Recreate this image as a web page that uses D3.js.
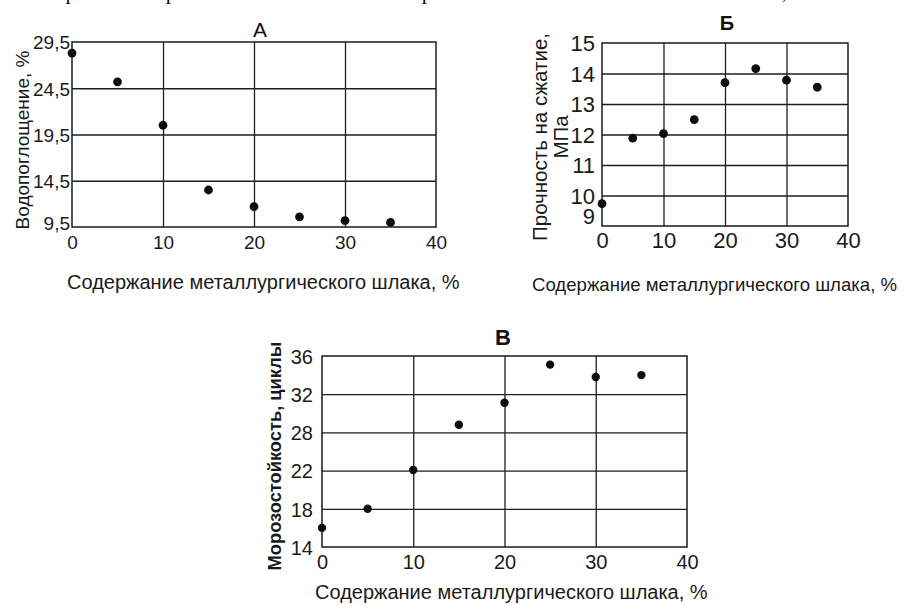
<!DOCTYPE html>
<html>
<head>
<meta charset="utf-8">
<script src="https://cdn.jsdelivr.net/npm/d3@7"></script>
<style>
  html, body { margin: 0; padding: 0; background: #fff; }
  svg { display: block; font-family: "Liberation Sans", Arial, sans-serif; }
  .grid line { stroke: #1e1e1e; stroke-width: 1.3; }
  .grid path { display: none; }
  .lbl path, .lbl line { display: none; }
  .lbl text { fill: #1a1a1a; }
</style>
</head>
<body>
<svg id="chart" width="910" height="605"></svg>
<script>
// Slag content, % (shared x values for all three panels)
const slagContent = [0, 5, 10, 15, 20, 25, 30, 35];
const xTickValues = [0, 10, 20, 30, 40];

// А — water absorption, %
const waterAbsorption = [28.3, 25.2, 20.5, 13.5, 11.7, 10.6, 10.2, 10.0];
const waterTicks = [9.5, 14.5, 19.5, 24.5, 29.5];

// Б — compressive strength, MPa
const compressiveStrength = [9.73, 11.88, 12.03, 12.49, 13.70, 14.16, 13.78, 13.55];
const strengthTicks = [9, 10, 11, 12, 13, 14, 15];

// В — frost resistance, cycles (gridlines evenly spaced between uneven labels)
const frostResistance = [16.0, 18.0, 22.1, 28.8, 31.1, 35.1, 33.8, 34.0];
const frostTicks = [14, 18, 22, 28, 32, 36];

const xLabel = "Содержание металлургического шлака, %";
const commaFmt = v => String(v).replace(".", ",");

const svg = d3.select("#chart");

// Bottom of a text line from the page above the figure
svg.append("text")
  .attr("x", 50).attr("y", -0.8)
  .attr("font-family", "'Liberation Serif', 'Times New Roman', serif")
  .attr("font-size", 21.5)
  .attr("fill", "#111")
  .text("Прочность при замене песка шлаком возрастает на 40–45 % и остается высокой, что");

function panel(cfg) {
  const g = svg.append("g");
  const [x0, x1] = cfg.xr, [yb, yt] = cfg.yr;
  const x = d3.scaleLinear().domain([0, 40]).range([x0, x1]);
  const y = cfg.y;

  // gridlines
  g.append("g").attr("class", "grid")
    .attr("transform", `translate(${x0},0)`)
    .call(d3.axisLeft(y).tickValues(cfg.yTicks.slice(1, -1)).tickSize(-(x1 - x0)).tickFormat(""));
  g.append("g").attr("class", "grid")
    .attr("transform", `translate(0,${yb})`)
    .call(d3.axisBottom(x).tickValues(xTickValues.slice(1, -1)).tickSize(-(yb - yt)).tickFormat(""));

  // frame
  g.append("rect")
    .attr("x", x0).attr("y", yt).attr("width", x1 - x0).attr("height", yb - yt)
    .attr("fill", "none").attr("stroke", "#1a1a1a").attr("stroke-width", 1.5);

  // tick labels
  const yl = g.append("g").attr("class", "lbl")
    .attr("transform", `translate(${x0},0)`)
    .call(d3.axisLeft(y).tickValues(cfg.yTicks).tickSize(0).tickPadding(cfg.yPad).tickFormat(cfg.fmt));
  yl.selectAll("text").attr("font-size", cfg.fs).attr("font-family", "'Liberation Sans', Arial, sans-serif")
    .attr("dy", (d, i) => i === 0 ? cfg.firstDy : "0.36em");
  const xl = g.append("g").attr("class", "lbl")
    .attr("transform", `translate(0,${yb})`)
    .call(d3.axisBottom(x).tickValues(xTickValues).tickSize(0).tickPadding(cfg.xPad));
  xl.selectAll("text").attr("font-size", cfg.fs).attr("font-family", "'Liberation Sans', Arial, sans-serif");

  // points
  g.append("g").selectAll("circle")
    .data(slagContent.map((s, i) => [s, cfg.values[i]]))
    .join("circle")
    .attr("cx", d => x(d[0])).attr("cy", d => y(d[1]))
    .attr("r", cfg.r).attr("fill", "#0d0d0d");

  // title
  g.append("text")
    .attr("x", cfg.title[1]).attr("y", cfg.title[2])
    .attr("text-anchor", "middle")
    .attr("font-size", cfg.title[3]).attr("font-weight", cfg.title[4])
    .attr("fill", "#111")
    .text(cfg.title[0]);

  // x axis title
  g.append("text")
    .attr("x", cfg.xt[0]).attr("y", cfg.xt[1])
    .attr("font-size", cfg.xt[2]).attr("fill", "#1a1a1a")
    .text(xLabel);

  // y axis title (one or more lines, first line centred on ytPos)
  const yt2 = g.append("text")
    .attr("transform", `translate(${cfg.ytPos[0]},${cfg.ytPos[1]}) rotate(-90)`)
    .attr("text-anchor", "middle")
    .attr("font-size", cfg.ytPos[2]).attr("font-weight", cfg.ytPos[3])
    .attr("fill", "#1a1a1a");
  cfg.yTitle.forEach((line, i) => {
    yt2.append("tspan").attr("x", 0).attr("dy", i === 0 ? "0.36em" : cfg.lineGap).text(line);
  });
}

// А
panel({
  xr: [72, 436], yr: [227, 42],
  y: d3.scaleLinear().domain([9.5, 29.5]).range([227, 42]),
  yTicks: waterTicks, fmt: commaFmt, values: waterAbsorption,
  fs: 19, yPad: 2, xPad: 9, firstDy: "0.15em", r: 4.4,
  title: ["А", 260, 37, 21, "normal"],
  xt: [67, 289, 20],
  ytPos: [22, 140, 19, "normal"],
  yTitle: ["Водопоглощение, %"]
});

// Б
panel({
  xr: [602, 848], yr: [226, 43],
  y: d3.scaleLinear().domain([9, 15]).range([226, 43]),
  yTicks: strengthTicks, fmt: d => d, values: compressiveStrength,
  fs: 22, yPad: 7, xPad: 6, firstDy: "-0.1em", r: 4.4,
  title: ["Б", 727, 30, 20, "bold"],
  xt: [532, 291, 18.6],
  ytPos: [540, 137, 20.5, "normal"], lineGap: "1.0em",
  yTitle: ["Прочность на сжатие,", "МПа"]
});

// В
panel({
  xr: [322, 687], yr: [547, 356],
  y: d3.scaleLinear().domain(frostTicks).range(frostTicks.map((d, i) => 547 - i * (547 - 356) / (frostTicks.length - 1))),
  yTicks: frostTicks, fmt: d => d, values: frostResistance,
  fs: 20, yPad: 9, xPad: 8, firstDy: "0.36em", r: 4.2,
  title: ["В", 503, 345, 22, "bold"],
  xt: [315, 599, 20],
  ytPos: [274, 456, 18.3, "bold"],
  yTitle: ["Морозостойкость, циклы"]
});
</script>
</body>
</html>
